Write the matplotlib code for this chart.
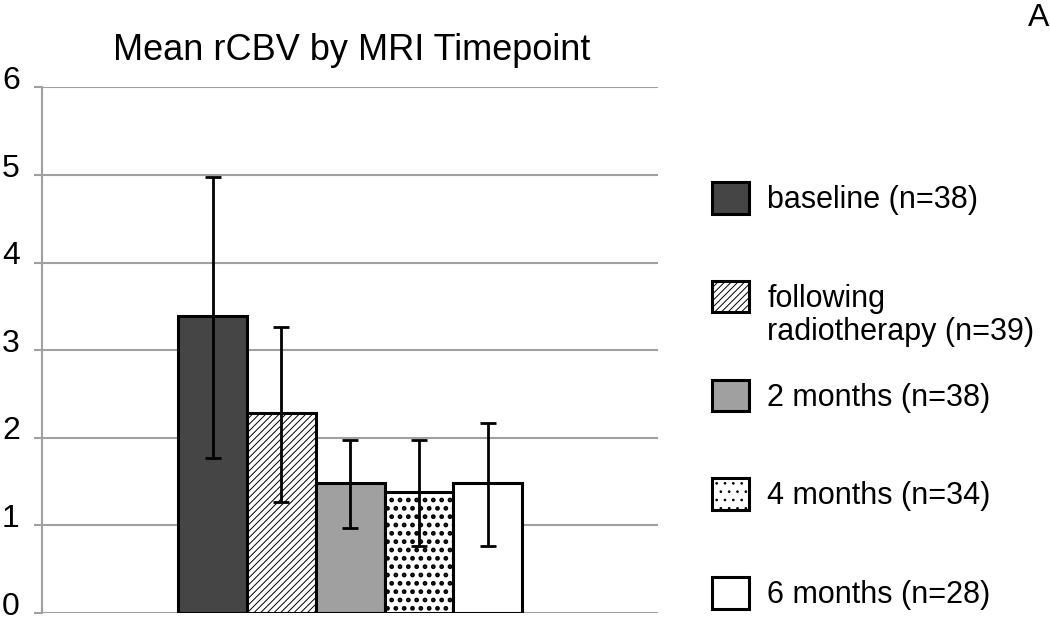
import matplotlib
matplotlib.use("Agg")
import matplotlib.pyplot as plt
import matplotlib.transforms as mtransforms
import numpy as np

# values
timepoints = ['baseline (n=38)', 'following', '2 months (n=38)',
              '4 months (n=34)', '6 months (n=28)']
second_line = 'radiotherapy (n=39)'   # continuation of the 2nd legend label
mean_rcbv = [3.39, 2.28, 1.48, 1.38, 1.48]
upper = [4.98, 3.27, 1.97, 1.97, 2.17]
lower = [1.77, 1.27, 0.97, 0.76, 0.76]

fills = ['#454545', 'white', '#a0a0a0', 'white', 'white']
hatches = [None, '/////', None, '..', None]
hatch_lw = [0.7, 0.7, 0.7, 2.2, 0.7]

plt.rcParams['font.family'] = ['Liberation Sans', 'DejaVu Sans']
plt.rcParams['hatch.linewidth'] = 0.7

fig = plt.figure(figsize=(10.5, 6.27), dpi=100)
ax = fig.add_axes([0.04, 0.0223, 0.587, 0.8382])

width = 0.1115
x = 0.5 + (np.arange(len(mean_rcbv)) - 2) * width
err = [np.array(mean_rcbv) - np.array(lower), np.array(upper) - np.array(mean_rcbv)]

bars = []
for i in range(len(mean_rcbv)):
    b = ax.bar(x[i], mean_rcbv[i], width, color=fills[i], edgecolor='black',
               linewidth=2.2, hatch=hatches[i], label=timepoints[i], zorder=3)
    if hasattr(b[0], 'set_hatch_linewidth'):
        b[0].set_hatch_linewidth(hatch_lw[i])
    bars.append(b)
ax.errorbar(x, mean_rcbv, yerr=err, fmt='none', ecolor='black', elinewidth=2,
            capsize=6, capthick=2, zorder=4)

ax.set_xlim(0, 1)
ax.set_ylim(0, 6)
ax.set_yticks(range(7))
ax.set_xticks([])
ax.yaxis.grid(True, color='#a0a0a0', linewidth=1.5, zorder=0)
for s in ['top', 'right', 'bottom']:
    ax.spines[s].set_visible(False)
ax.spines['left'].set_color('#a0a0a0')
ax.spines['left'].set_linewidth(1.5)
ax.tick_params(axis='y', length=6, width=1.5, color='#a0a0a0', labelsize=23, pad=10)
shift = mtransforms.ScaledTranslation(0, 0.1, fig.dpi_scale_trans)
for lab in ax.get_yticklabels():
    lab.set_transform(lab.get_transform() + shift)

fig.text(0.335, 0.904, 'Mean rCBV by MRI Timepoint', fontsize=26, ha='center', va='baseline')
fig.text(0.999, 0.972, 'A', fontsize=23, ha='right', va='center')

leg = fig.legend(handles=[b[0] for b in bars], labels=timepoints, loc='upper left',
                 bbox_to_anchor=(0.678, 0.7097), frameon=False, fontsize=22,
                 handlelength=1.21, handleheight=1.21, handletextpad=0.6,
                 labelspacing=2.15, borderpad=0, borderaxespad=0)

# second line of the 'following radiotherapy' label, under the first line
fig.canvas.draw()
bb = leg.get_texts()[1].get_window_extent()
fig.text(bb.x0 / fig.bbox.width, (bb.y0 - 33) / fig.bbox.height, second_line,
         fontsize=22, ha='left', va='bottom')

fig.savefig('out.png', dpi=100)
